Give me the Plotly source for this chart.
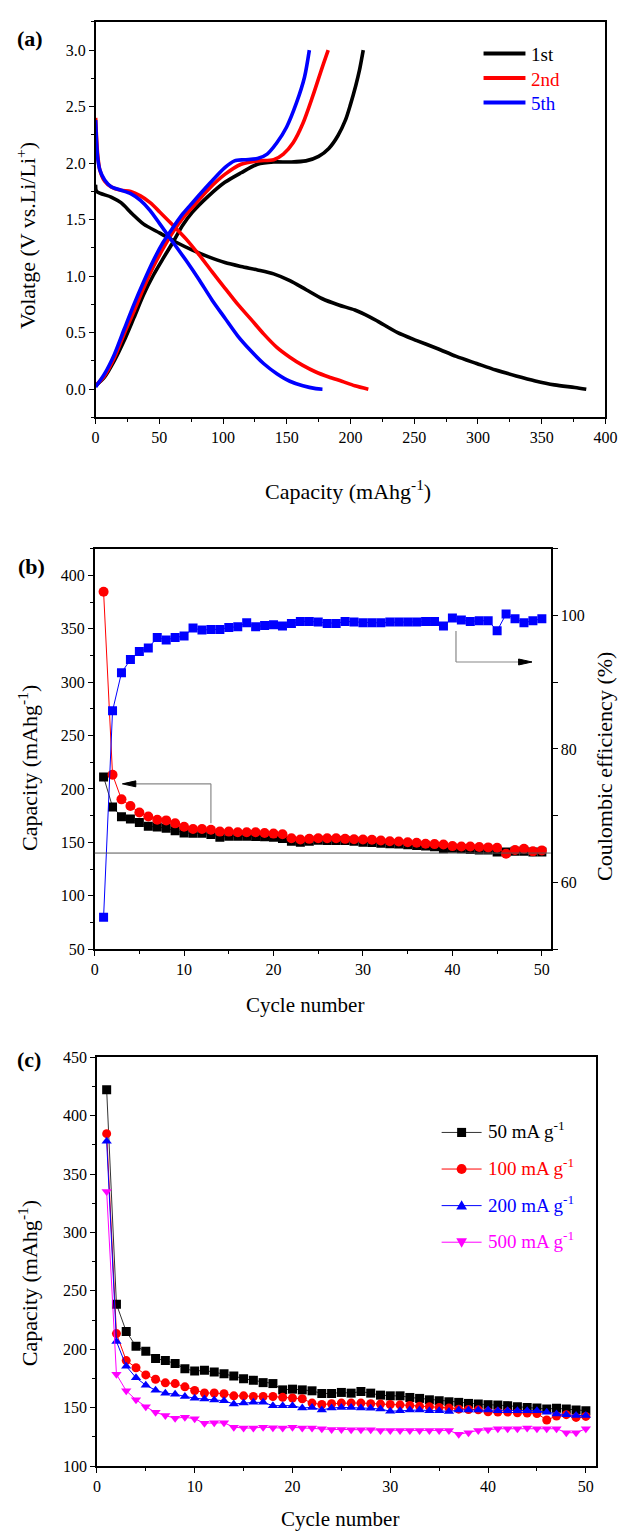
import plotly.graph_objects as go

W, H = 632, 1539
FONT = "Liberation Serif"

# ---------------- Panel (a): charge/discharge profiles ----------------
cap_1st_dis = [0, 0.8, 12.2, 19.9, 28.8, 37.7, 50.5, 63.2, 76, 88.7, 101.4, 114.2, 127, 139.7, 152.4,
               165.2, 177.9, 190.7, 203.4, 215, 221.5, 237, 252, 268, 283, 299, 314, 330, 345, 360, 376, 385]
v_1st_dis = [1.81, 1.75, 1.70, 1.65, 1.55, 1.46, 1.38, 1.30, 1.23, 1.17, 1.12, 1.085, 1.055, 1.02, 0.96,
             0.88, 0.80, 0.745, 0.70, 0.64, 0.60, 0.50, 0.43, 0.36, 0.29, 0.227, 0.169, 0.117, 0.073, 0.038, 0.015, 0.0]
cap_1st_chg = [0, 7.1, 14.8, 22.4, 30.1, 37.7, 45.4, 53, 60.7, 68.3, 76, 88.7, 101.4, 114.2, 127, 139.7,
               152.4, 165, 175, 183, 190, 196, 200, 204, 207, 210]
v_1st_chg = [0.03, 0.108, 0.254, 0.43, 0.633, 0.837, 1.01, 1.157, 1.30, 1.45, 1.566, 1.71, 1.83, 1.915, 1.99, 2.01,
             2.01, 2.02, 2.06, 2.13, 2.24, 2.38, 2.52, 2.68, 2.82, 3.0]

cap_2nd_dis = [0, 1.5, 3.3, 7.1, 12.2, 19.9, 27.5, 35.2, 42.8, 50.5, 60.7, 70.9, 81.1, 91.3, 101.4, 111.6,
               121.8, 132, 142.2, 152.4, 162.6, 172.8, 183, 193.2, 203.4, 214]
v_2nd_dis = [2.40, 2.09, 1.94, 1.84, 1.79, 1.76, 1.75, 1.71, 1.65, 1.566, 1.45, 1.33, 1.19, 1.04, 0.895, 0.75,
             0.62, 0.487, 0.37, 0.283, 0.21, 0.152, 0.108, 0.07, 0.03, 0.0]
cap_2nd_chg = [0, 7.1, 14.8, 22.4, 30.1, 37.7, 45.4, 53, 60.7, 68.3, 76, 88.7, 101.4, 114.2, 127, 139.7,
               147.3, 155, 162.6, 170.3, 177.9, 182.5]
v_2nd_chg = [0.03, 0.12, 0.28, 0.49, 0.69, 0.895, 1.085, 1.245, 1.39, 1.51, 1.61, 1.77, 1.90, 1.99, 2.02, 2.03,
             2.08, 2.18, 2.35, 2.59, 2.85, 3.0]

cap_5th_dis = [0, 1.5, 3.3, 7.1, 12.2, 19.9, 27.5, 35.2, 42.8, 50.5, 60.7, 70.9, 81.1, 91.3, 101.4, 111.6,
               121.8, 132, 142.2, 152.4, 162.6, 172.8, 178]
v_5th_dis = [2.38, 2.06, 1.94, 1.85, 1.79, 1.76, 1.73, 1.67, 1.58, 1.46, 1.30, 1.14, 0.97, 0.79, 0.63, 0.47,
             0.34, 0.225, 0.137, 0.07, 0.03, 0.005, 0.0]
cap_5th_chg = [0, 7.1, 14.8, 22.4, 30.1, 37.7, 45.4, 53, 60.7, 68.3, 76, 88.7, 101.4, 109, 116.7, 127,
               134.6, 142.2, 149.9, 157.5, 163.9, 167.7]
v_5th_chg = [0.02, 0.137, 0.31, 0.53, 0.75, 0.95, 1.14, 1.30, 1.43, 1.55, 1.65, 1.81, 1.96, 2.02, 2.03, 2.04,
             2.08, 2.18, 2.32, 2.53, 2.76, 3.0]

# ---------------- Panel (b) & (c): cycling ----------------
cycles = list(range(1, 51))

charge_cap_b = [211.3, 183.2, 174.0, 171.8, 168.7, 165.0, 164.4, 163.2, 161.0, 158.8,
                158.5, 158.5, 157.3, 154.8, 155.8, 155.8, 155.8, 155.5, 155.2, 154.8,
                153.6, 151.1, 150.2, 151.1, 152.0, 151.8, 151.8, 151.8, 151.1, 150.2,
                149.9, 149.3, 148.7, 148.4, 147.7, 147.1, 146.5, 145.9, 144.0, 144.6,
                144.0, 143.4, 142.8, 142.8, 141.0, 141.0, 141.6, 141.6, 141.0, 141.0]

discharge_cap_100 = [384.6, 213.4, 190.3, 184.1, 178.0, 174.3, 171.2, 170.6, 167.8, 164.7,
                     162.5, 162.5, 161.9, 160.1, 160.1, 159.5, 159.5, 159.5, 158.8, 158.2,
                     157.6, 153.9, 152.7, 153.3, 153.9, 153.9, 153.9, 153.3, 153.0, 152.7,
                     152.4, 151.8, 151.1, 150.8, 150.2, 149.6, 148.7, 148.4, 148.1, 146.5,
                     146.2, 146.2, 145.6, 145.3, 145.0, 139.4, 142.8, 144.0, 141.6, 142.5]

coulombic_eff = [54.8, 85.7, 91.4, 93.4, 94.6, 95.1, 96.7, 96.3, 96.7, 96.9,
                 98.1, 97.8, 97.9, 97.9, 98.2, 98.3, 98.9, 98.3, 98.5, 98.6,
                 98.4, 98.8, 99.1, 99.1, 99.0, 98.8, 98.8, 99.1, 99.0, 98.9,
                 98.9, 98.9, 99.0, 99.0, 99.0, 99.0, 99.1, 99.1, 98.4, 99.6,
                 99.3, 99.1, 99.2, 99.2, 97.7, 100.2, 99.5, 98.9, 99.2, 99.5]

cap_50 = [422.1, 238.6, 215.2, 202.5, 198.2, 192.0, 190.3, 187.8, 183.3, 181.3,
          181.9, 180.5, 179.0, 177.1, 174.8, 173.4, 171.4, 170.6, 165.2, 165.8,
          165.2, 164.4, 162.1, 162.1, 163.0, 162.4, 163.8, 162.4, 160.7, 160.1,
          160.1, 158.7, 157.9, 156.7, 155.9, 155.0, 154.5, 153.6, 153.1, 152.5,
          152.2, 151.7, 150.8, 150.2, 149.7, 148.8, 149.4, 148.8, 148.0, 147.4]
cap_200 = [378.0, 206.7, 185.5, 175.6, 169.2, 164.9, 162.4, 161.5, 159.6, 158.1,
           157.3, 156.5, 155.9, 153.1, 153.9, 154.5, 154.5, 151.7, 151.7, 151.7,
           149.7, 150.2, 148.0, 149.7, 150.2, 150.2, 149.7, 149.4, 148.8, 146.9,
           147.4, 148.0, 148.0, 147.4, 147.4, 146.6, 148.0, 148.0, 148.0, 148.0,
           147.4, 147.4, 147.4, 147.4, 147.4, 146.0, 144.6, 143.8, 143.2, 143.2]
cap_500 = [335.1, 178.5, 164.4, 156.7, 150.8, 146.0, 143.2, 140.9, 141.8, 140.4,
           136.7, 137.0, 137.0, 133.3, 132.5, 132.5, 133.3, 132.8, 132.5, 133.1,
           132.5, 132.5, 131.9, 131.3, 131.3, 131.1, 131.1, 131.1, 130.5, 130.5,
           130.5, 130.5, 130.5, 130.5, 130.5, 130.5, 127.1, 128.5, 130.5, 131.1,
           131.9, 131.9, 131.9, 132.5, 131.9, 131.9, 131.9, 128.5, 128.5, 131.9]

legend_a = ["1st", "2nd", "5th"]
legend_c = ["50 mA g<sup>-1</sup>", "100 mA g<sup>-1</sup>", "200 mA g<sup>-1</sup>", "500 mA g<sup>-1</sup>"]

BLACK, RED, BLUE, MAG = "#000000", "#ff0000", "#0000ff", "#ff00ff"
COLORS_A = [BLACK, RED, BLUE]
COLORS_C = [BLACK, RED, BLUE, MAG]
SYMBOLS_C = ["square", "circle", "triangle-up", "triangle-down"]


def px(x):
    return x / W


def py(y):
    return 1 - y / H


fig = go.Figure()

# Panel (a)
for (cd, vd, cc, vc), col, name in zip(
        [(cap_1st_dis, v_1st_dis, cap_1st_chg, v_1st_chg),
         (cap_2nd_dis, v_2nd_dis, cap_2nd_chg, v_2nd_chg),
         (cap_5th_dis, v_5th_dis, cap_5th_chg, v_5th_chg)],
        COLORS_A, legend_a):
    fig.add_trace(go.Scatter(
        x=cd + [None] + cc, y=vd + [None] + vc, mode="lines",
        line=dict(color=col, width=3.6, shape="spline", smoothing=0.8),
        name=name, showlegend=False, xaxis="x", yaxis="y"))

# Panel (b)
fig.add_trace(go.Scatter(x=cycles, y=charge_cap_b, mode="lines+markers",
                         line=dict(color="#333333", width=1),
                         marker=dict(symbol="square", size=9, color=BLACK),
                         showlegend=False, xaxis="x2", yaxis="y2"))
fig.add_trace(go.Scatter(x=cycles, y=discharge_cap_100, mode="lines+markers",
                         line=dict(color=RED, width=1),
                         marker=dict(symbol="circle", size=10, color=RED),
                         showlegend=False, xaxis="x2", yaxis="y2"))
fig.add_trace(go.Scatter(x=cycles, y=coulombic_eff, mode="lines+markers",
                         line=dict(color=BLUE, width=1),
                         marker=dict(symbol="square", size=9, color=BLUE),
                         showlegend=False, xaxis="x2", yaxis="y3"))

# Panel (c)
for ys, col, sym, name in zip([cap_50, discharge_cap_100, cap_200, cap_500],
                              COLORS_C, SYMBOLS_C, legend_c):
    fig.add_trace(go.Scatter(x=cycles, y=ys, mode="lines+markers",
                             line=dict(color=col if col != BLACK else "#333333", width=1),
                             marker=dict(symbol=sym, size=9, color=col),
                             name=name, showlegend=False, xaxis="x3", yaxis="y4"))

tickfont = dict(family=FONT, size=16, color="black")
common = dict(showline=True, linecolor="black", linewidth=1.5, mirror=True,
              ticks="outside", ticklen=5, tickwidth=1.2, tickcolor="black",
              showgrid=False, zeroline=False, tickfont=tickfont)

fig.update_layout(
    width=W, height=H, margin=dict(l=0, r=0, t=0, b=0),
    paper_bgcolor="white", plot_bgcolor="white",
    font=dict(family=FONT, color="black"),
    showlegend=False,
    xaxis=dict(domain=[px(94), px(617)], anchor="y", range=[0, 400], dtick=50, tick0=0,
               minor=dict(dtick=25, tick0=0, ticks="outside", ticklen=3, tickcolor="black"), **common),
    yaxis=dict(domain=[py(414), py(14)], anchor="x", range=[-0.25, 3.25], dtick=0.5, tick0=0,
               tickformat=".1f",
               minor=dict(dtick=0.25, tick0=0, ticks="outside", ticklen=3, tickcolor="black"), **common),
    xaxis2=dict(domain=[px(93), px(561)], anchor="y2", range=[0, 51], dtick=10, tick0=0,
                minor=dict(dtick=5, tick0=0, ticks="outside", ticklen=3, tickcolor="black"), **common),
    yaxis2=dict(domain=[py(951.7), py(546.7)], anchor="x2", range=[50, 425], dtick=50, tick0=0,
                minor=dict(dtick=25, tick0=0, ticks="outside", ticklen=3, tickcolor="black"), **common),
    yaxis3=dict(overlaying="y2", anchor="x2", side="right", range=[50, 110],
                tickvals=[60, 80, 100], showline=True, linecolor="black", linewidth=1.5,
                ticks="outside", ticklen=5, tickwidth=1.2, tickcolor="black",
                showgrid=False, zeroline=False, tickfont=tickfont,
                minor=dict(dtick=10, tick0=50, ticks="outside", ticklen=5, tickcolor="black")),
    xaxis3=dict(domain=[px(95.3), px(607)], anchor="y4", range=[0, 51], dtick=10, tick0=0,
                minor=dict(dtick=5, tick0=0, ticks="outside", ticklen=3, tickcolor="black"), **common),
    yaxis4=dict(domain=[py(1474.3), py(1061)], anchor="x3", range=[100, 450], dtick=50, tick0=0,
                minor=dict(dtick=25, tick0=0, ticks="outside", ticklen=3, tickcolor="black"), **common),
)

# horizontal reference line and arrows in panel (b)
fig.add_shape(type="line", xref="x2 domain", yref="y2", x0=0, x1=1, y0=140, y1=140,
              line=dict(color="#555555", width=1))
GRAY = "#888888"
fig.add_shape(type="line", xref="x2", yref="y2", x0=13, x1=13, y0=168, y1=204.8, line=dict(color=GRAY, width=1.2))
fig.add_shape(type="line", xref="x2", yref="y2", x0=13, x1=4.2, y0=204.8, y1=204.8, line=dict(color=GRAY, width=1.2))
fig.add_shape(type="path", xref="x2", yref="y2", path="M 3.1,204.8 L 4.6,207.6 L 4.6,202.0 Z",
              fillcolor="black", line=dict(color="black", width=1))
fig.add_shape(type="line", xref="x2", yref="y2", x0=40.4, x1=40.4, y0=348, y1=318.9, line=dict(color=GRAY, width=1.2))
fig.add_shape(type="line", xref="x2", yref="y2", x0=40.4, x1=47.6, y0=318.9, y1=318.9, line=dict(color=GRAY, width=1.2))
fig.add_shape(type="path", xref="x2", yref="y2", path="M 48.9,318.9 L 47.4,321.7 L 47.4,316.1 Z",
              fillcolor="black", line=dict(color="black", width=1))


def ann(text, x, y, size=22, angle=0, bold=False, color="black", xanchor="center"):
    if bold:
        text = f"<b>{text}</b>"
    fig.add_annotation(text=text, x=px(x), y=py(y), xref="paper", yref="paper",
                       showarrow=False, textangle=angle, xanchor=xanchor, yanchor="middle",
                       font=dict(family=FONT, size=size, color=color))


# legend of panel (a)
for i, (name, col) in enumerate(zip(legend_a, COLORS_A)):
    yy = 46 + i * 24.8
    fig.add_shape(type="line", xref="paper", yref="paper", x0=px(492), x1=px(535), y0=py(yy), y1=py(yy),
                  line=dict(color=col, width=4))
    ann(name, 539, yy + 1, size=19, color=col, xanchor="left")

# legend of panel (c)
for i, (name, col, sym) in enumerate(zip(legend_c, COLORS_C, SYMBOLS_C)):
    yy = 1137 + i * 37
    fig.add_shape(type="line", xref="paper", yref="paper", x0=px(449), x1=px(490), y0=py(yy), y1=py(yy),
                  line=dict(color=col if col != BLACK else "#333333", width=1))
    cx, r = 469.5, 4.6
    if sym == "square":
        fig.add_shape(type="rect", xref="paper", yref="paper", x0=px(cx - r), x1=px(cx + r),
                      y0=py(yy + r), y1=py(yy - r), fillcolor=col, line=dict(width=0))
    elif sym == "circle":
        fig.add_shape(type="circle", xref="paper", yref="paper", x0=px(cx - r - 0.5), x1=px(cx + r + 0.5),
                      y0=py(yy + r + 0.5), y1=py(yy - r - 0.5), fillcolor=col, line=dict(width=0))
    elif sym == "triangle-up":
        fig.add_shape(type="path", xref="paper", yref="paper",
                      path=f"M {px(cx)},{py(yy - 5.5)} L {px(cx + 5.5)},{py(yy + 4)} L {px(cx - 5.5)},{py(yy + 4)} Z",
                      fillcolor=col, line=dict(width=0))
    else:
        fig.add_shape(type="path", xref="paper", yref="paper",
                      path=f"M {px(cx)},{py(yy + 5.5)} L {px(cx + 5.5)},{py(yy - 4)} L {px(cx - 5.5)},{py(yy - 4)} Z",
                      fillcolor=col, line=dict(width=0))
    ann(name, 495, yy - 2, size=19, color=col, xanchor="left")

# titles and panel labels
ann("(a)", 27, 31, size=22, bold=True)
ann("(b)", 28, 565, size=22, bold=True)
ann("(c)", 26, 1063, size=22, bold=True)

ann("Capacity (mAhg<sup>-1</sup>)", 353, 487, size=22)
ann("Volatge (V vs.Li/Li<sup>+</sup>)", 23, 230, size=22, angle=-90)

ann("Cycle number", 309, 1008, size=21)
ann("Capacity (mAhg<sup>-1</sup>)", 24, 768, size=22, angle=-90)
ann("Coulombic efficiency (%)", 616, 767, size=22, angle=-90)

ann("Cycle number", 345, 1528, size=21)
ann("Capacity (mAhg<sup>-1</sup>)", 24, 1289, size=22, angle=-90)

fig.write_html("out.html", config={"displayModeBar": False},
               post_script="document.body.style.margin='0';document.body.style.padding='0';"
                           "document.documentElement.style.overflow='hidden';")
